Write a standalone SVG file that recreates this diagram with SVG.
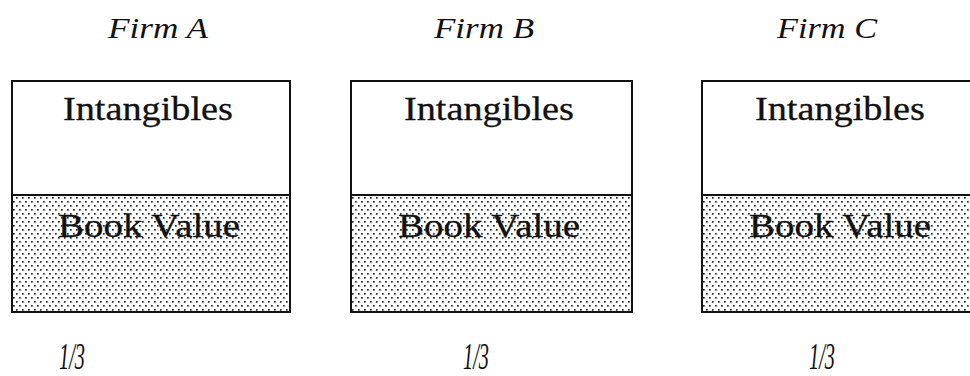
<svg xmlns="http://www.w3.org/2000/svg" width="970" height="376" viewBox="0 0 970 376">
  <style>
    .firm { font-family: "Liberation Serif", "Times New Roman", serif; font-style: italic; font-size: 30px; fill: #111111; }
    .label { font-family: "Liberation Serif", "Times New Roman", serif; font-size: 33px; fill: #111111; stroke: #111111; stroke-width: 0.3; }
    .share { font-family: "Liberation Serif", "Times New Roman", serif; font-style: italic; font-size: 37px; fill: #111111; }
    .frame { fill: none; stroke: #111111; stroke-width: 2; }
    .book { stroke: none; }
  </style>
  <defs>
    <!-- fine stipple used for the book-value half of each bar -->
    <pattern id="stipple" width="6" height="8" patternUnits="userSpaceOnUse">
      <rect width="6" height="8" fill="#ffffff"/>
      <rect x="1" y="1" width="1.7" height="1.7" fill="#2a2a2a"/>
      <rect x="4" y="5" width="1.7" height="1.7" fill="#2a2a2a"/>
    </pattern>
  </defs>

  <g id="firm-a">
    <text class="firm" x="158" y="38" text-anchor="middle" textLength="100" lengthAdjust="spacingAndGlyphs">Firm A</text>
    <rect class="book" x="12" y="195" width="278" height="117" fill="url(#stipple)"/>
    <rect class="frame" x="12" y="81" width="278" height="231"/>
    <line class="frame" x1="12" y1="195" x2="290" y2="195"/>
    <text class="label" x="148" y="120" text-anchor="middle" textLength="170" lengthAdjust="spacingAndGlyphs">Intangibles</text>
    <text class="label" x="149" y="237" text-anchor="middle" textLength="182" lengthAdjust="spacingAndGlyphs">Book Value</text>
    <text class="share" x="72" y="369" text-anchor="middle" textLength="26" lengthAdjust="spacingAndGlyphs">1/3</text>
  </g>

  <g id="firm-b">
    <text class="firm" x="484" y="38" text-anchor="middle" textLength="100" lengthAdjust="spacingAndGlyphs">Firm B</text>
    <rect class="book" x="351" y="195" width="281" height="117" fill="url(#stipple)"/>
    <rect class="frame" x="351" y="81" width="281" height="231"/>
    <line class="frame" x1="351" y1="195" x2="632" y2="195"/>
    <text class="label" x="489" y="120" text-anchor="middle" textLength="170" lengthAdjust="spacingAndGlyphs">Intangibles</text>
    <text class="label" x="489" y="237" text-anchor="middle" textLength="182" lengthAdjust="spacingAndGlyphs">Book Value</text>
    <text class="share" x="476" y="369" text-anchor="middle" textLength="26" lengthAdjust="spacingAndGlyphs">1/3</text>
  </g>

  <g id="firm-c">
    <text class="firm" x="827" y="38" text-anchor="middle" textLength="100" lengthAdjust="spacingAndGlyphs">Firm C</text>
    <rect class="book" x="702" y="195" width="280" height="117" fill="url(#stipple)"/>
    <rect class="frame" x="702" y="81" width="280" height="231"/>
    <line class="frame" x1="702" y1="195" x2="982" y2="195"/>
    <text class="label" x="840" y="120" text-anchor="middle" textLength="170" lengthAdjust="spacingAndGlyphs">Intangibles</text>
    <text class="label" x="840" y="237" text-anchor="middle" textLength="182" lengthAdjust="spacingAndGlyphs">Book Value</text>
    <text class="share" x="822" y="369" text-anchor="middle" textLength="26" lengthAdjust="spacingAndGlyphs">1/3</text>
  </g>

  <g id="connectors"/>
</svg>
